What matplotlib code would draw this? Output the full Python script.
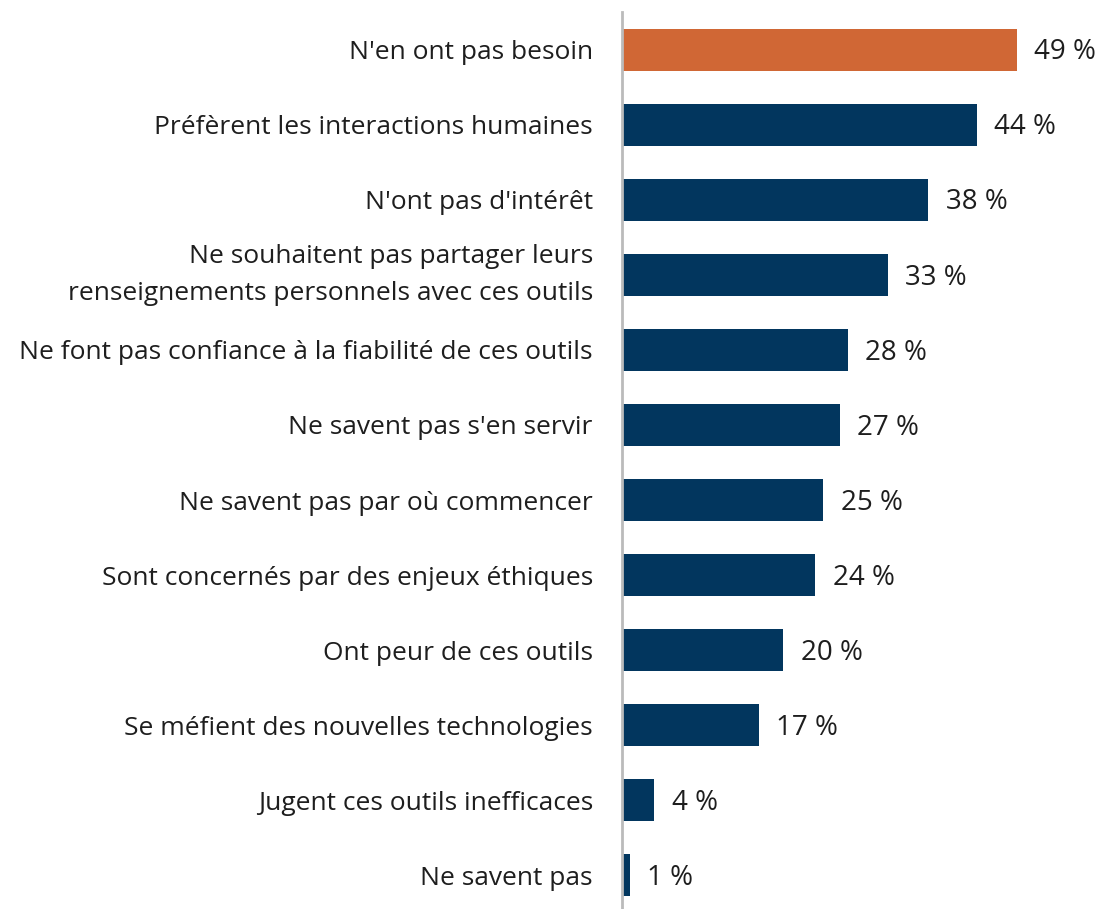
import matplotlib

matplotlib.use("Agg")
import matplotlib.pyplot as plt

plt.rcParams["font.family"] = ["Open Sans", "DejaVu Sans"]

labels = [
    "N'en ont pas besoin",
    "Préfèrent les interactions humaines",
    "N'ont pas d'intérêt",
    "Ne souhaitent pas partager leurs\nrenseignements personnels avec ces outils",
    "Ne font pas confiance à la fiabilité de ces outils",
    "Ne savent pas s'en servir",
    "Ne savent pas par où commencer",
    "Sont concernés par des enjeux éthiques",
    "Ont peur de ces outils",
    "Se méfient des nouvelles technologies",
    "Jugent ces outils inefficaces",
    "Ne savent pas",
]
values = [49, 44, 38, 33, 28, 27, 25, 24, 20, 17, 4, 1]

ORANGE = "#D06735"
NAVY = "#02365E"
TEXT = "#1E1E1E"

fig = plt.figure(figsize=(10.99, 9.09), dpi=100)
ax = fig.add_axes([622 / 1099, -4 / 909, 1 - 622 / 1099, 901 / 909])

ypos = list(range(len(values)))
colors = [ORANGE] + [NAVY] * (len(values) - 1)
ax.barh(ypos, values, height=0.56, color=colors)
ax.set_ylim(len(values) - 0.5, -0.5)
ax.set_xlim(0, 59.2)

# étiquettes de valeur à droite des barres
for y, v in zip(ypos, values):
    ax.annotate(f"{v} %", (v, y), xytext=(12.5, -2), textcoords="offset points",
                va="center", ha="left", fontsize=20, color=TEXT)

ax.set_yticks(ypos)
ax.set_yticklabels(labels, fontsize=19, color=TEXT, linespacing=1.65)
ax.tick_params(axis="y", length=0, pad=21)
# libellé sur deux lignes : centrer le bloc sur la barre
for t in ax.get_yticklabels():
    if "\n" in t.get_text():
        t.set_va("center")
ax.set_xticks([])
for s in ("top", "right", "bottom"):
    ax.spines[s].set_visible(False)
ax.spines["left"].set_color("#BBBBBB")
ax.spines["left"].set_linewidth(2)

fig.savefig("out.png", dpi=100)
